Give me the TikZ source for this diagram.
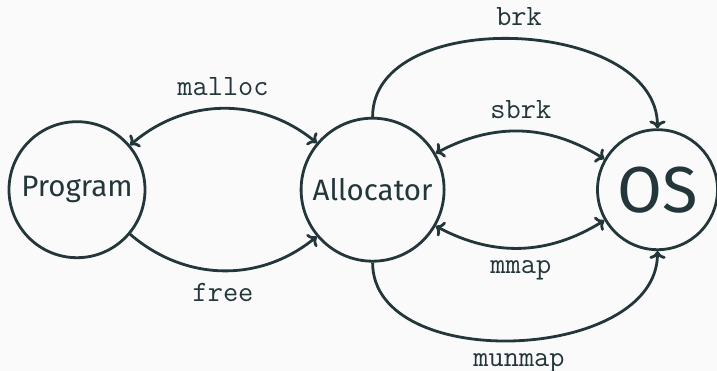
\documentclass[tikz,border=0pt]{standalone}
\usepackage{fontspec}
\setmainfont{Fira Sans}
\usetikzlibrary{arrows.meta}
\definecolor{mdark}{HTML}{23373B}
\definecolor{mbg}{HTML}{FAFAFA}
\begin{document}
\begin{tikzpicture}[x=1pt,y=1pt,
  every node/.style={text=mdark},
  state/.style={draw=mdark, line width=2.8pt, circle, inner sep=0pt, font=\fontsize{29.5}{35}\selectfont},
  lbl/.style={font=\fontsize{29.5}{35}\selectfont\ttfamily, inner sep=11.5pt},
  conn/.style={draw=mdark, line width=2.8pt, >={To}}]
\fill[mbg] (0,0) rectangle (717,371);
\useasboundingbox (0,0) rectangle (717,371);
\node[state, minimum size=136pt] (prog) at (77,181.3) {Program};
\node[state, minimum size=143pt] (alloc) at (372.6,181.3) {Allocator};
\node[state, minimum size=120pt, font=\fontsize{65}{75}\selectfont] (os) at (657.5,181.3) {OS};
\draw[conn, <->] (prog) to[bend left=40] node[lbl, above] {malloc} (alloc);
\draw[conn, ->] (prog) to[bend right=40] node[lbl, below] {free} (alloc);
\draw[conn, ->] (alloc) to[out=90, in=90] node[lbl, above, xshift=4pt] {brk} (os);
\draw[conn, <->] (alloc) to[bend left=30] node[lbl, above] {sbrk} (os);
\draw[conn, <->] (alloc) to[bend right=30] node[lbl, below] {mmap} (os);
\draw[conn, ->] (alloc) to[out=-90, in=-90] node[lbl, below, xshift=4pt] {munmap} (os);
\end{tikzpicture}
\end{document}
